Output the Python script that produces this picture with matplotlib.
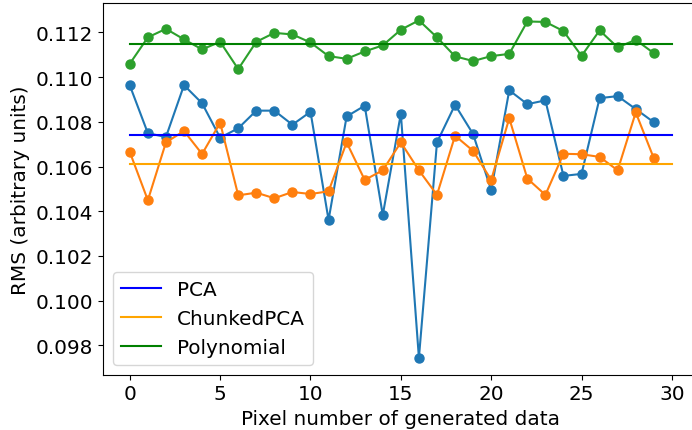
"""RMS per pixel for PCA, chunked PCA and polynomial fits, with their means."""

import matplotlib

matplotlib.use("Agg")
import matplotlib.pyplot as plt
import numpy as np

pixels = np.arange(30)

rms_pca = [
    0.10963, 0.10749, 0.10732, 0.10964, 0.10883, 0.10729, 0.10771, 0.10850, 0.10850, 0.10787,
    0.10845, 0.10361, 0.10824, 0.10872, 0.10383, 0.10836, 0.09744, 0.10708, 0.10876, 0.10745,
    0.10494, 0.10941, 0.10879, 0.10896, 0.10558, 0.10567, 0.10906, 0.10915, 0.10857, 0.10798,
]
rms_chunked = [
    0.10665, 0.10449, 0.10708, 0.10759, 0.10656, 0.10796, 0.10471, 0.10483, 0.10458, 0.10486,
    0.10477, 0.10489, 0.10708, 0.10540, 0.10583, 0.10708, 0.10583, 0.10473, 0.10738, 0.10670,
    0.10540, 0.10816, 0.10546, 0.10473, 0.10657, 0.10655, 0.10643, 0.10583, 0.10842, 0.10637,
]
rms_poly = [
    0.11060, 0.11178, 0.11216, 0.11169, 0.11124, 0.11158, 0.11036, 0.11158, 0.11198, 0.11191,
    0.11155, 0.11094, 0.11082, 0.11115, 0.11142, 0.11212, 0.11254, 0.11178, 0.11093, 0.11072,
    0.11094, 0.11104, 0.11249, 0.11247, 0.11206, 0.11095, 0.11209, 0.11133, 0.11167, 0.11107,
]

methods = ["PCA", "ChunkedPCA", "Polynomial"]
series = [rms_pca, rms_chunked, rms_poly]
point_colors = ["C0", "C1", "C2"]
mean_colors = ["blue", "orange", "green"]

plt.rcParams["font.size"] = 14.4

fig = plt.figure(figsize=(6.92, 4.31), dpi=100)
ax = fig.add_axes([0.1484, 0.1283, 0.8617, 0.8613])

for values, color in zip(series, point_colors):
    ax.plot(pixels, values, "o-", color=color, markersize=6.5, linewidth=1.5)

# mean of each method, drawn across the whole pixel range
for name, values, color in zip(methods, series, mean_colors):
    ax.plot([0, len(pixels)], [np.mean(values)] * 2, color=color, linewidth=1.5, label=name)

ax.set_xlim(-1.5, 31.5)
ax.set_xlabel("Pixel number of generated data")
ax.set_ylabel("RMS (arbitrary units)")
ax.legend(loc="lower left")

fig.savefig("out.png", dpi=100)
